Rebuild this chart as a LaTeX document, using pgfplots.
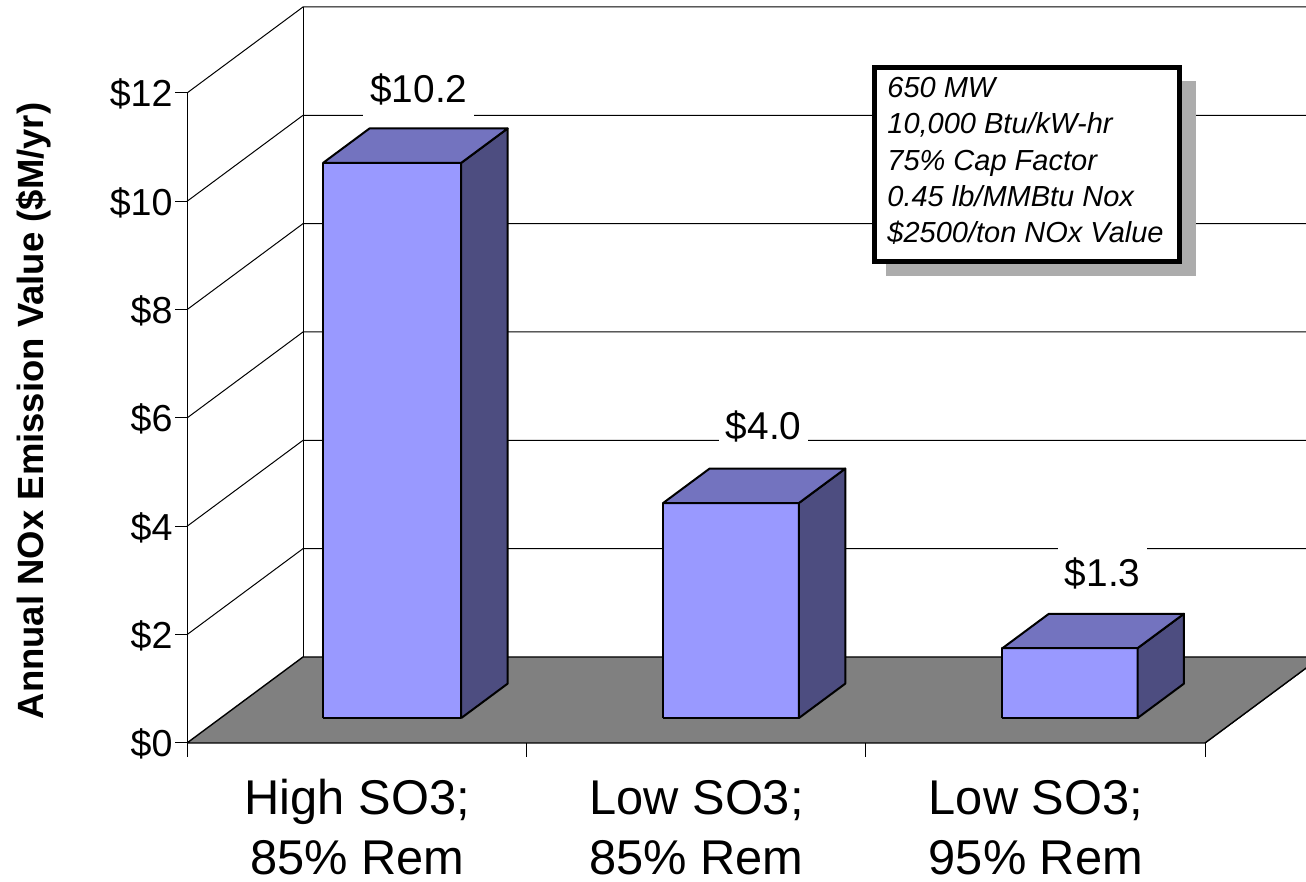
\documentclass[border=0pt]{standalone}
\usepackage{fontspec}
\setmainfont{Liberation Sans}
\usepackage{pgfplots}
\pgfplotsset{compat=1.18}

\definecolor{barfront}{HTML}{9999FF}
\definecolor{bartop}{HTML}{7373BF}
\definecolor{barside}{HTML}{4D4D80}
\definecolor{floorgray}{HTML}{808080}

% one 3d bar: x from, x to, height
\newcommand{\threedbar}[3]{
  \addplot3[fill=barfront, draw=black, line width=1pt, line join=round] coordinates {(#1,0.29,0) (#2,0.29,0) (#2,0.29,#3) (#1,0.29,#3) (#1,0.29,0)};
  \addplot3[fill=barside, draw=black, line width=1pt, line join=round] coordinates {(#2,0.29,0) (#2,0.69,0) (#2,0.69,#3) (#2,0.29,#3) (#2,0.29,0)};
  \addplot3[fill=bartop, draw=black, line width=1pt, line join=round] coordinates {(#1,0.29,#3) (#2,0.29,#3) (#2,0.69,#3) (#1,0.69,#3) (#1,0.29,#3)};
}

\begin{document}
\begin{tikzpicture}
\useasboundingbox (0,0) rectangle (653pt,441pt);
\begin{axis}[
    at={(93.5pt,69.5pt)},
    anchor=origin,
    x={(169.67pt,0pt)},
    y={(58pt,43pt)},
    z={(0pt,27.083pt)},
    xmin=0, xmax=3,
    ymin=0, ymax=1,
    zmin=0, zmax=12,
    clip=false,
    axis lines=left,
    axis line style={-, black, line width=0.5pt},
    tick style={draw=none},
    xtick={0.5,1.5,2.5},
    xticklabels={{\strut High SO3;\\85\% Rem},{\strut Low SO3;\\85\% Rem},{\strut Low SO3;\\95\% Rem}},
    xticklabel style={font=\fontsize{24.4}{30}\selectfont, align=center, anchor=north, xshift=2pt, yshift=-10pt},
    ytick=\empty,
    ztick={0,2,4,6,8,10,12},
    zticklabels={\raisebox{-2.5pt}{\$0},\$2,\$4,\$6,\$8,\$10,\$12},
    zticklabel style={font=\fontsize{18.8}{22}\selectfont, anchor=east, xshift=-2pt, yshift=0.7pt},
]

% walls, grid lines
\pgfplotsinvokeforeach{2,4,6,8,10,12}{
  \addplot3[black, line width=0.5pt] coordinates {(0,0,#1) (0,1,#1) (3,1,#1)};
}
\addplot3[black, line width=0.5pt] coordinates {(0,1,0) (0,1,12)};
\addplot3[black, line width=0.5pt] coordinates {(0,0,0) (0,0,12)};

% ticks
\pgfplotsinvokeforeach{0,2,4,6,8,10,12}{
  \addplot3[black, line width=0.5pt] coordinates {(-0.035,0,#1) (0,0,#1)};
}
\pgfplotsinvokeforeach{0,1,2,3}{
  \addplot3[black, line width=0.5pt] coordinates {(#1,0,0) (#1,0,-0.26)};
}

% floor
\addplot3[fill=floorgray, draw=black, line width=0.7pt] coordinates {(0,0,0) (3,0,0) (3,1,0) (0,1,0) (0,0,0)};

\threedbar{0.302}{0.709}{10.25}
\threedbar{1.304}{1.704}{3.97}
\threedbar{2.304}{2.702}{1.29}

% value labels
\node[fill=white, font=\fontsize{19.4}{22}\selectfont, inner xsep=3.5pt, inner ysep=5pt] at (axis cs:0.516,0.49,11.28) {\$10.2};
\node[fill=white, font=\fontsize{19.4}{22}\selectfont, inner xsep=3.5pt, inner ysep=5pt] at (axis cs:1.532,0.49,5.06) {\$4.0};
\node[fill=white, font=\fontsize{19.4}{22}\selectfont, inner xsep=3.5pt, inner ysep=5pt] at (axis cs:2.531,0.49,2.36) {\$1.3};
\end{axis}

% z axis title
\node[rotate=90, font=\fontsize{18.25}{20}\selectfont\bfseries] at (16.8pt,235.5pt) {Annual NOx Emission Value (\$M/yr)};

% note box
\fill[gray!65] (443pt,303pt) rectangle (598pt,400.5pt);
\draw[fill=white, line width=2.5pt] (437.25pt,310.25pt) rectangle (589.75pt,407.25pt);
\node[anchor=west, align=left, inner sep=0pt, font=\fontsize{14.5}{18.2}\selectfont\itshape] at (443.5pt,360.5pt)
  {650 MW\\10,000 Btu/kW-hr\\75\% Cap Factor\\0.45 lb/MMBtu Nox\\\$2500/ton NOx Value};
\end{tikzpicture}
\end{document}
